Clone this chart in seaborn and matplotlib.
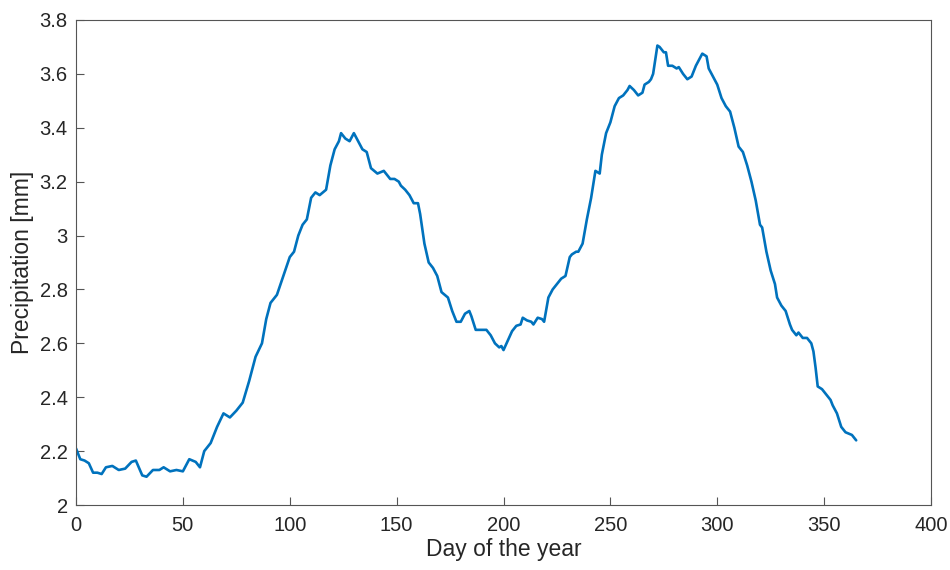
import matplotlib
matplotlib.use("Agg")
import matplotlib.pyplot as plt
import seaborn as sns
import pandas as pd

# Smoothed daily precipitation climatology
day = [0, 2, 4, 6, 8, 10, 12, 14, 17, 20, 23, 26, 28, 31, 33, 36, 39, 41, 44, 47,
       50, 53, 56, 58, 60, 63, 66, 69, 72, 75, 78, 81, 84, 87, 89, 91, 94, 97, 100, 102,
       104, 106, 108, 110, 112, 114, 117, 119, 121, 123, 124, 126, 128, 130, 132, 134, 136, 138, 141, 144,
       147, 149, 151, 152, 154, 156, 158, 160, 161, 163, 165, 167, 169, 171, 174, 176, 178, 180, 182, 184,
       185, 187, 190, 192, 194, 196, 198, 199, 200, 202, 204, 206, 208, 209, 211, 213, 214, 216, 218, 219,
       221, 223, 225, 227, 229, 231, 232, 234, 235, 237, 239, 241, 243, 245, 246, 248, 250, 252, 254, 256,
       258, 259, 261, 263, 265, 266, 268, 269, 270, 272, 273, 275, 276, 277, 279, 281, 282, 284, 286, 288,
       290, 292, 293, 295, 296, 298, 300, 302, 304, 306, 308, 310, 312, 314, 316, 318, 320, 321, 323, 325,
       327, 328, 330, 332, 334, 335, 337, 338, 340, 342, 344, 345, 346, 347, 349, 351, 353, 354, 356, 358,
       360, 363, 365]
precip = [2.21, 2.17, 2.165, 2.155, 2.12, 2.12, 2.115, 2.14, 2.145, 2.13, 2.135, 2.16, 2.165, 2.11, 2.105, 2.13, 2.13, 2.14, 2.125, 2.13,
          2.125, 2.17, 2.16, 2.14, 2.2, 2.23, 2.29, 2.34, 2.325, 2.35, 2.38, 2.46, 2.55, 2.6, 2.69, 2.75, 2.78, 2.85, 2.92, 2.94,
          3.0, 3.04, 3.06, 3.14, 3.16, 3.15, 3.17, 3.26, 3.32, 3.35, 3.38, 3.36, 3.35, 3.38, 3.35, 3.32, 3.31, 3.25, 3.23, 3.24,
          3.21, 3.21, 3.2, 3.185, 3.17, 3.15, 3.12, 3.12, 3.08, 2.97, 2.9, 2.88, 2.85, 2.79, 2.77, 2.72, 2.68, 2.68, 2.71, 2.72,
          2.7, 2.65, 2.65, 2.65, 2.63, 2.6, 2.585, 2.59, 2.575, 2.61, 2.645, 2.665, 2.67, 2.695, 2.685, 2.68, 2.67, 2.695, 2.69, 2.68,
          2.77, 2.8, 2.82, 2.84, 2.85, 2.92, 2.93, 2.94, 2.94, 2.97, 3.06, 3.14, 3.24, 3.23, 3.3, 3.38, 3.42, 3.48, 3.51, 3.52,
          3.54, 3.555, 3.54, 3.52, 3.53, 3.56, 3.57, 3.58, 3.6, 3.705, 3.7, 3.68, 3.68, 3.63, 3.63, 3.62, 3.625, 3.6, 3.58, 3.59,
          3.63, 3.66, 3.675, 3.665, 3.62, 3.59, 3.56, 3.51, 3.48, 3.46, 3.4, 3.33, 3.31, 3.26, 3.2, 3.13, 3.04, 3.03, 2.94, 2.87,
          2.82, 2.77, 2.74, 2.72, 2.67, 2.65, 2.63, 2.64, 2.62, 2.62, 2.6, 2.57, 2.51, 2.44, 2.43, 2.41, 2.39, 2.37, 2.34, 2.29,
          2.27, 2.26, 2.24]

x_ticks = [0, 50, 100, 150, 200, 250, 300, 350, 400]
y_ticks = [2, 2.2, 2.4, 2.6, 2.8, 3, 3.2, 3.4, 3.6, 3.8]
y_tick_labels = ["2", "2.2", "2.4", "2.6", "2.8", "3", "3.2", "3.4", "3.6", "3.8"]

sns.set_theme(style="white")
plt.rcParams["font.family"] = ["Liberation Sans", "DejaVu Sans"]

df = pd.DataFrame({"day": day, "precip": precip})

fig = plt.figure(figsize=(9.5, 5.7), dpi=100)
ax = fig.add_axes([0.08, 0.114, 0.9, 0.851])

sns.lineplot(data=df, x="day", y="precip", ax=ax, color="#0072BD", linewidth=1.9)

ax.set_xlim(0, 400)
ax.set_ylim(2, 3.8)
ax.set_xticks(x_ticks)
ax.set_xticklabels([str(t) for t in x_ticks])
ax.set_yticks(y_ticks)
ax.set_yticklabels(y_tick_labels)

text_color = "#262626"
ax.tick_params(axis="both", direction="in", length=6, width=0.8, color="#555555",
               labelsize=14.5, labelcolor=text_color,
               bottom=True, left=True, top=False, right=False)
ax.tick_params(axis="x", pad=8)
ax.tick_params(axis="y", pad=6)
for s in ax.spines.values():
    s.set_visible(True)
    s.set_color("#555555")
    s.set_linewidth(0.8)

ax.set_xlabel("Day of the year", fontsize=16.5, color=text_color, labelpad=2)
ax.set_ylabel("Precipitation [mm]", fontsize=16.5, color=text_color, labelpad=4)

fig.savefig("out.png", dpi=100, facecolor="white")
